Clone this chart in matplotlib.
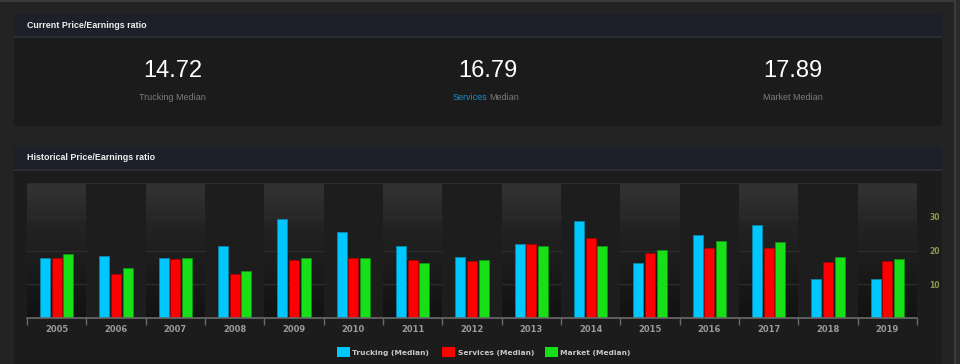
import numpy as np
import matplotlib
matplotlib.use("Agg")
import matplotlib.pyplot as plt
from matplotlib.patches import Rectangle
from matplotlib.colors import LinearSegmentedColormap

# ---- data ----
years    = ["2005", "2006", "2007", "2008", "2009", "2010", "2011", "2012",
            "2013", "2014", "2015", "2016", "2017", "2018", "2019"]
trucking = [17.7, 18.3, 17.7, 21.3, 29.2, 25.4, 21.3, 18.1,
            21.8, 28.7, 16.4, 24.5, 27.5, 11.5, 11.5]
services = [17.7, 13.0, 17.5, 13.0, 17.2, 17.9, 17.2, 16.8,
            22.0, 23.6, 19.3, 20.6, 20.8, 16.6, 16.8]
market   = [18.9, 14.8, 17.9, 13.8, 17.7, 17.9, 16.4, 17.2,
            21.2, 21.3, 20.1, 22.8, 22.5, 18.1, 17.5]

series_names  = ["Trucking (Median)", "Services (Median)", "Market (Median)"]
series_colors = ["#00c8ff", "#ff0000", "#18e018"]
series_edges  = ["#0a86a8", "#a80000", "#0e960e"]

current_values = ["14.72", "16.79", "17.89"]
current_labels = ["Trucking", "Services", "Market"]
y_ticks = [10, 20, 30]

W, H = 960, 364
fig = plt.figure(figsize=(W / 100, H / 100), dpi=100)
fig.patch.set_facecolor("#232323")


def px_rect(x0, y0, x1, y1, color, z=0):
    # rectangle in pixel coords (y from top)
    fig.patches.append(Rectangle((x0 / W, 1 - y1 / H), (x1 - x0) / W, (y1 - y0) / H,
                                 transform=fig.transFigure, facecolor=color,
                                 edgecolor="none", zorder=z))


def px_text(x, y, s, **kw):
    fig.text(x / W, 1 - y / H, s, **kw)


# top border + scrollbar
px_rect(0, 0, W, 1.5, "#3a3a3a")
px_rect(954, 0, 956, H, "#3c3c3c")
px_rect(956, 0, W, H, "#2b2b2b")

# panel 1
px_rect(14, 14, 942, 36, "#1d2028")
px_rect(14, 36, 942, 38, "#2a2d33")
px_rect(14, 38, 942, 126, "#1b1b1b")
px_text(27, 25.5, "Current Price/Earnings ratio", color="#f0f0f0", fontsize=6.4,
        fontweight="bold", va="center", ha="left", family="Liberation Sans")

centers = [172.5, 488, 793]
for cx, val, lab in zip(centers, current_values, current_labels):
    px_text(cx, 71, val, color="white", fontsize=17, ha="center", va="center",
            family="Liberation Sans")
    if lab == "Services":
        px_text(cx - 1, 97, "Services", color="#1e90c8", fontsize=6.5, ha="right",
                va="center", family="Liberation Sans")
        px_text(cx + 1, 97, "Median", color="#7c7c7c", fontsize=6.5, ha="left",
                va="center", family="Liberation Sans")
    else:
        px_text(cx, 97, lab + " Median", color="#7c7c7c", fontsize=6.5, ha="center",
                va="center", family="Liberation Sans")

# panel 2
px_rect(14, 147, 942, 169, "#1d2028")
px_rect(14, 169, 942, 170.5, "#2a2d33")
px_rect(14, 170.5, 942, H, "#1c1c1c")
px_text(27, 158, "Historical Price/Earnings ratio", color="#f0f0f0", fontsize=6.4,
        fontweight="bold", va="center", ha="left", family="Liberation Sans")

# chart axes
left, right, top, bottom = 27, 917, 183, 318
ax = fig.add_axes([left / W, 1 - bottom / H, (right - left) / W, (bottom - top) / H])
ax.set_zorder(5)
ax.set_facecolor("#1d1d1d")
n = len(years)
ax.set_xlim(-0.5, n - 0.5)
ax.set_ylim(0, 40)

# alternating bands, every other one with a vertical gradient
cmap = LinearSegmentedColormap.from_list("g", ["#121212", "#1a1a1a", "#222222", "#333333"])
steps = 60
for i in range(n):
    if i % 2 == 0:
        for j in range(steps):
            y0 = 40 * j / steps
            ax.add_patch(Rectangle((i - 0.5, y0), 1, 40 / steps + 0.05,
                                   facecolor=cmap(j / (steps - 1)), edgecolor="none",
                                   zorder=0, antialiased=False))
        for yt in y_ticks:
            ax.plot([i - 0.5, i + 0.5], [yt, yt], color="#2c2c2c", lw=1.0, zorder=0.6)
    else:
        ax.add_patch(Rectangle((i - 0.5, 0), 1, 40, facecolor="#1d1d1d", edgecolor="none",
                               zorder=0))
ax.plot([-0.5, n - 0.5], [40, 40], color="#2a2a2a", lw=1.0, zorder=0.6)

x = np.arange(n)
bw = 0.165
step = 0.197
for k, (vals, col, ec) in enumerate(zip([trucking, services, market], series_colors, series_edges)):
    ax.bar(x + (k - 1) * step, vals, width=bw, color=col, edgecolor=ec, linewidth=0.6,
           zorder=2, label=series_names[k])

ax.yaxis.tick_right()
ax.set_yticks(y_ticks)
ax.set_yticklabels([str(v) for v in y_ticks], color="#8a9a4a", fontsize=5.5, fontweight="bold")
ax.tick_params(axis="y", length=0, pad=9)

ax.set_xticks(np.arange(n + 1) - 0.5, minor=False)
ax.set_xticklabels([])
ax.tick_params(axis="x", length=5, color="#6a6a6a", width=1, direction="out")
ax.set_xticks(x, minor=True)
ax.set_xticklabels(years, minor=True, color="#9a9a9a", fontsize=6, fontweight="bold")
ax.tick_params(axis="x", which="minor", length=0, pad=5)

for s in ["top", "left", "right"]:
    ax.spines[s].set_visible(False)
ax.spines["bottom"].set_color("#6a6a6a")
ax.spines["bottom"].set_linewidth(1.2)

# legend drawn as figure patches + text
leg_x = [337, 442, 545]
for lx, name, col in zip(leg_x, series_names, series_colors):
    px_rect(lx, 347, lx + 12.5, 357, col, z=3)
    px_text(lx + 15.5, 352.5, name, color="#c8c8c8", fontsize=5.4, fontweight="bold",
            va="center", ha="left")

fig.savefig("out.png", dpi=100, facecolor=fig.get_facecolor())
